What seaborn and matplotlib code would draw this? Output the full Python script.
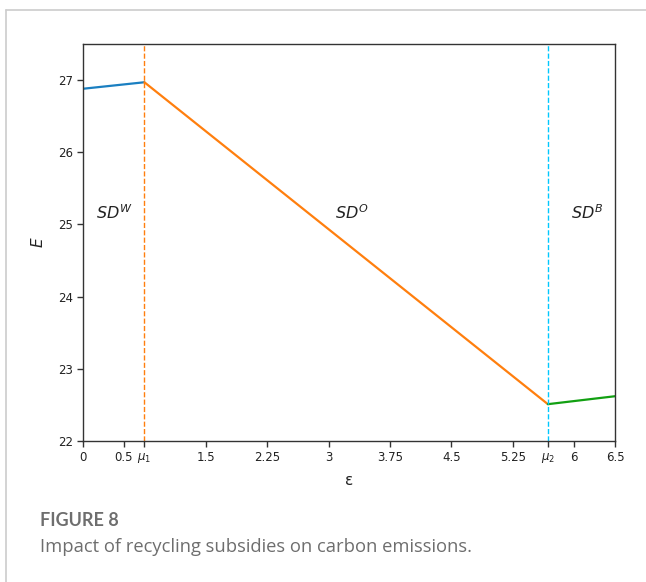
import matplotlib
matplotlib.use("Agg")
import matplotlib.pyplot as plt
import seaborn as sns
import pandas as pd
from matplotlib.lines import Line2D

sns.set_theme(style="white")
plt.rcParams['font.family'] = ['DejaVu Sans']

mu1 = 0.75
mu2 = 5.68
seg_w_x = [0.0, mu1]
seg_w_y = [26.88, 26.97]
seg_o_x = [mu1, mu2]
seg_o_y = [26.97, 22.51]
seg_b_x = [mu2, 6.5]
seg_b_y = [22.51, 22.62]
xtick_vals = [0, 0.5, mu1, 1.5, 2.25, 3, 3.75, 4.5, 5.25, mu2, 6, 6.5]
xtick_labels = ["0", "0.5", r"$\mu_1$", "1.5", "2.25", "3", "3.75", "4.5", "5.25", r"$\mu_2$", "6", "6.5"]
ytick_vals = [22, 23, 24, 25, 26, 27]
region_labels = [r"$SD^W$", r"$SD^O$", r"$SD^B$"]
region_x = [0.38, 3.29, 6.16]
region_y = [25.17, 25.17, 25.17]

fig = plt.figure(figsize=(6.46, 5.82), dpi=100)
ax = fig.add_axes([0.1285, 0.2423, 0.952 - 0.1285, 0.9244 - 0.2423])

df_w = pd.DataFrame({"x": seg_w_x, "y": seg_w_y})
df_o = pd.DataFrame({"x": seg_o_x, "y": seg_o_y})
df_b = pd.DataFrame({"x": seg_b_x, "y": seg_b_y})
sns.lineplot(data=df_w, x="x", y="y", ax=ax, color="#1a7fc1", lw=1.6)
sns.lineplot(data=df_o, x="x", y="y", ax=ax, color="#ff7f0e", lw=1.6)
sns.lineplot(data=df_b, x="x", y="y", ax=ax, color="#12a012", lw=1.6)

ax.axvline(mu1, color="#ff7f0e", ls="--", lw=1.0)
ax.axvline(mu2, color="#00c8ff", ls="--", lw=1.0)

for lab, xx, yy in zip(region_labels, region_x, region_y):
    ax.text(xx, yy, lab, fontsize=11.5, ha="center", va="center", color="#222222")

ax.set_xlim(0, 6.5)
ax.set_ylim(22, 27.5)
ax.set_xticks(xtick_vals)
ax.set_xticklabels(xtick_labels)
ax.set_yticks(ytick_vals)
ax.tick_params(axis="both", which="both", labelsize=8.5, length=4, width=1,
               bottom=True, left=True, colors="#333333", labelcolor="#222222", pad=3)
for s in ax.spines.values():
    s.set_color("#333333")
    s.set_linewidth(1.0)
ax.set_xlabel("ε", fontsize=11, color="#222222", labelpad=6)
ax.set_ylabel(r"$E$", fontsize=11, color="#222222", labelpad=9)

# outer frame
fig.add_artist(Line2D([6 / 646, 1.0], [1 - 10 / 582, 1 - 10 / 582], transform=fig.transFigure,
                      color="#cccccc", lw=1.2))
fig.add_artist(Line2D([6 / 646, 6 / 646], [0.0, 1 - 10 / 582], transform=fig.transFigure,
                      color="#cccccc", lw=1.2))

fig.text(40 / 646, 1 - 521 / 582, "FIGURE 8", fontsize=13, fontweight="bold",
         color="#6e6e6e", va="center", ha="left", family=["Lato", "DejaVu Sans"])
fig.text(40 / 646, 1 - 547 / 582, "Impact of recycling subsidies on carbon emissions.",
         fontsize=13.2, color="#6e6e6e", va="center", ha="left", family=["Open Sans", "DejaVu Sans"])

fig.savefig("out.png", dpi=100)
